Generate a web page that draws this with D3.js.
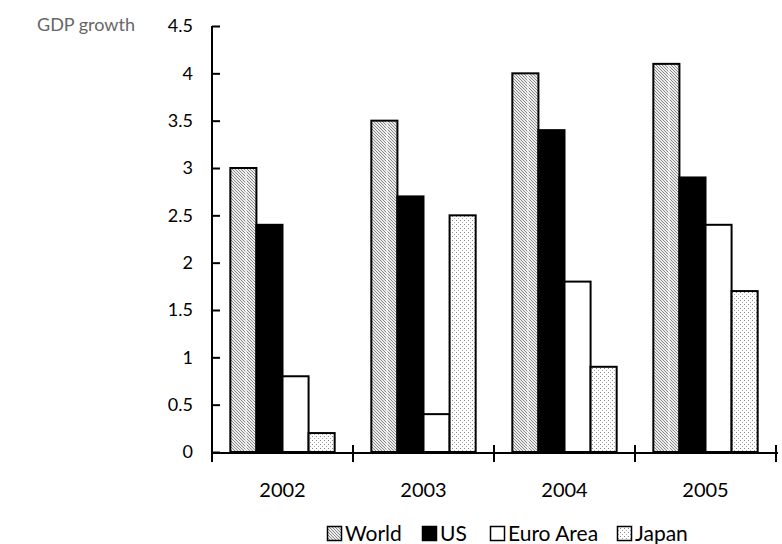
<!DOCTYPE html>
<html><head><meta charset="utf-8">
<script src="https://cdn.jsdelivr.net/npm/d3@7"></script>
<style>body{margin:0;background:#fff}text{font-family:Lato,"Open Sans",sans-serif}</style>
</head><body>
<script>
const years = ["2002","2003","2004","2005"];
const seriesNames = ["World","US","Euro Area","Japan"];
const world = [3.0,3.5,4.0,4.1];
const us = [2.4,2.7,3.4,2.9];
const euro = [0.8,0.4,1.8,2.4];
const japan = [0.2,2.5,0.9,1.7];
const yTicks = [0,0.5,1,1.5,2,2.5,3,3.5,4,4.5];
const values = [world, us, euro, japan];

const W=782,H=544;
const svg=d3.select("body").append("svg").attr("width",W).attr("height",H);
const defs=svg.append("defs");
// hatch pattern for World
const ph=defs.append("pattern").attr("id","hatch").attr("patternUnits","userSpaceOnUse").attr("width",3).attr("height",3);
ph.append("rect").attr("width",3).attr("height",3).attr("fill","#ececec");
ph.append("path").attr("d","M-1,2 l2,2 M0,0 l3,3 M2,-1 l2,2").attr("stroke","#8a8a8a").attr("stroke-width",1);
// dots pattern for Japan
const pd=defs.append("pattern").attr("id","dots").attr("patternUnits","userSpaceOnUse").attr("width",4).attr("height",4);
pd.append("rect").attr("width",4).attr("height",4).attr("fill","#fff");
pd.append("rect").attr("x",0).attr("y",0).attr("width",1).attr("height",1).attr("fill","#888");
pd.append("rect").attr("x",2).attr("y",2).attr("width",1).attr("height",1).attr("fill","#aaa");
const fills=["url(#hatch)","#000","#fff","url(#dots)"];

const y=d3.scaleLinear().domain([0,4.5]).range([452,26]);
const x0=d3.scaleBand().domain(years).range([212,776]).paddingInner(0.26).paddingOuter(0.13);
const x1=d3.scaleBand().domain(seriesNames).range([0,x0.bandwidth()]);

// bars
years.forEach((yr,i)=>{
  seriesNames.forEach((s,j)=>{
    const v=values[j][i];
    const bx=x0(yr)+x1(s);
    svg.append("rect").attr("x",bx).attr("y",y(v)).attr("width",x1.bandwidth()).attr("height",y(0)-y(v))
      .attr("fill",fills[j]).attr("stroke","#000").attr("stroke-width",2);
    if(j===0){
      svg.append("line").attr("x1",bx+x1.bandwidth()*0.6).attr("x2",bx+x1.bandwidth()*0.6)
        .attr("y1",y(v)+1).attr("y2",y(0)-1).attr("stroke","#fff").attr("stroke-width",1);
    }
  });
});

// y axis
const yAxis=d3.axisLeft(y).tickValues(yTicks).tickSize(-8).tickPadding(19).tickFormat(d=>String(d));
const gy=svg.append("g").attr("transform","translate(212,0)").call(yAxis);
gy.select(".domain").attr("d","M0,26V453").attr("stroke","#000").attr("stroke-width",2);
gy.selectAll(".tick line").attr("stroke","#000").attr("stroke-width",2);
gy.selectAll(".tick text").attr("font-size",18).attr("fill","#000").attr("font-family","Lato");

// x axis
svg.append("line").attr("x1",211).attr("x2",778).attr("y1",453).attr("y2",453).attr("stroke","#000").attr("stroke-width",2);
const boundaries=years.map((d,i)=>x0.range()[0]+x0.step()*i).concat([x0.range()[1]]);
boundaries.forEach(b=>{
  svg.append("line").attr("x1",b).attr("x2",b).attr("y1",445).attr("y2",462).attr("stroke","#000").attr("stroke-width",2);
});
years.forEach(yr=>{
  svg.append("text").attr("x",x0(yr)+x0.bandwidth()/2).attr("y",497).attr("text-anchor","middle")
    .attr("font-size",20).text(yr);
});

// title
svg.append("text").attr("x",37).attr("y",31).attr("font-size",18).attr("fill","#666").text("GDP growth");

// legend
const legX=[327,422,490,617];
seriesNames.forEach((s,j)=>{
  svg.append("rect").attr("x",legX[j]+0.5).attr("y",526.5).attr("width",14).attr("height",14)
    .attr("fill",fills[j]).attr("stroke","#000").attr("stroke-width",1.5);
  svg.append("text").attr("x",legX[j]+18).attr("y",541).attr("font-size",21).text(s);
});
</script>
</body></html>
